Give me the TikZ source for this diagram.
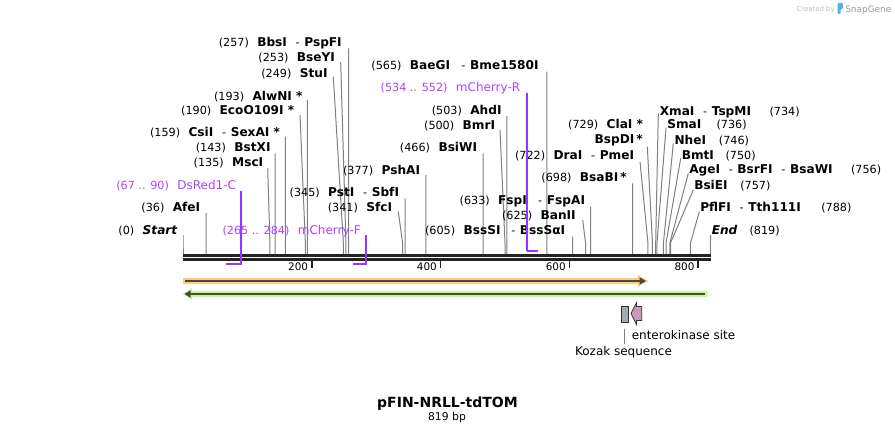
\documentclass[tikz,border=0pt]{standalone}
\usepackage{fontspec}
\setmainfont{DejaVu Sans}
\definecolor{cutgray}{RGB}{128,128,128}
\definecolor{bbcol}{RGB}{35,35,35}
\definecolor{purln}{RGB}{153,51,255}
\definecolor{purtxt}{RGB}{170,68,255}
\definecolor{orfcol}{RGB}{253,204,124}
\definecolor{grncol}{RGB}{196,245,150}
\definecolor{darkln}{RGB}{72,72,72}
\definecolor{kozcol}{RGB}{165,170,176}
\definecolor{entcol}{RGB}{204,153,187}
\definecolor{logoblue}{RGB}{80,180,235}
\definecolor{logogray}{RGB}{150,155,160}
\newcommand{\myenz}[1]{{\fontsize{9.1}{11}\selectfont\bfseries #1}}
\newcommand{\myhy}{\hspace{6.5pt}-\hspace{3.5pt}}
\newcommand{\mygap}{\hspace{6.3pt}}
\newcommand{\mypname}[1]{{\fontsize{9}{11}\selectfont #1}}
\begin{document}
\begin{tikzpicture}[x=0.75pt,y=-0.75pt,
  num/.style={inner sep=0pt,font=\fontsize{8.4}{10}\selectfont,text=black},
  lftlab/.style={num,anchor=base east},
  rgtlab/.style={num,anchor=base west},
  rgtnum/.style={num,anchor=base east},
  prim/.style={num,anchor=base east,text=purtxt},
  ticklab/.style={inner sep=0pt,font=\fontsize{7.8}{9}\selectfont,anchor=base east},
  featlab/.style={inner sep=0pt,font=\fontsize{9}{11}\selectfont},
  cutline/.style={draw=cutgray,line width=0.75pt},
  primln/.style={draw=purln,line width=1pt},
  primbar/.style={draw=purln,line width=1.4pt},
  backbone/.style={draw=bbcol,line width=2pt},
  tickmark/.style={draw=bbcol,line width=1.3pt},
  featline/.style={draw=darkln,line width=1.3pt}
]
\useasboundingbox (0,0) rectangle (895,433);
\fill[white] (0,0) rectangle (895,433);

% backbone
\coordinate (bbA1) at (183,255.4); \coordinate (bbB1) at (711,255.4);
\coordinate (bbA2) at (183,259.5); \coordinate (bbB2) at (711,259.5);
\draw[backbone] (bbA1) -- (bbB1);
\draw[backbone] (bbA2) -- (bbB2);

% ticks
\foreach \t in {200,400,600,800}{
  \coordinate (tk\t a) at ({183+0.644*\t},258.5);
  \coordinate (tk\t b) at ({183+0.644*\t},268.3);
  \draw[tickmark] (tk\t a) -- (tk\t b);
  \node[ticklab] (tl\t) at ({183+0.644*\t-3.5},270) {\t};
}

% cut-site lines
\foreach \n/\tx/\ty/\p in {
  start/183/235/0, afe/206.2/213/36, msc/267.7/168.3/135, bstx/275.1/153.3/143,
  csi/285.4/136.7/159, eco/300/115/190, alw/307.3/100/193, stu/333.3/76.7/249,
  bse/340.7/62.3/253, bbs/348.5/48.3/257, sfc/398.3/211.7/341, pst/405.2/198.3/345,
  psh/425.8/175/377, bsiw/483.1/153.3/466, bmr/500/130/500, ahd/506.9/116/503,
  bae/546.9/71.7/565, bsss/572.6/236.7/605, ban/582.7/220/625, fsp/590.7/206.7/633,
  bsab/632.5/183.3/698, dra/640/161.7/722, bspd/647.3/146.7/729, xma/658.3/113.3/734,
  sma/666/127.7/736, nhe/673.3/143.3/746, bmt/680.7/158.3/750, age/688.3/173.3/756,
  bsie/693.3/190/757, pfl/699.3/211.7/788, end/710.6/235/819}{
  \coordinate (\n-t) at (\tx,\ty);
  \coordinate (\n-b) at ({183+0.644*\p},243);
  \coordinate (\n-s) at ({183+0.644*\p},254);
  \draw[cutline] (\n-t) -- (\n-b) -- (\n-s);
}

% left labels
\node[lftlab] (Lstart) at (177.5,234.4) {(0)\mygap\myenz{\itshape Start}};
\node[lftlab] (Lafe) at (200.5,211.7) {(36)\mygap\myenz{AfeI}};
\node[lftlab] (Lmsc) at (263.5,166.7) {(135)\mygap\myenz{MscI}};
\node[lftlab] (Lbstx) at (270.8,151.1) {(143)\mygap\myenz{BstXI}};
\node[lftlab] (Lcsi) at (280.3,136.1) {(159)\mygap\myenz{CsiI}\myhy\myenz{SexAI *}};
\node[lftlab] (Leco) at (294.5,114.4) {(190)\mygap\myenz{EcoO109I *}};
\node[lftlab] (Lalw) at (302.8,100.4) {(193)\mygap\myenz{AlwNI *}};
\node[lftlab] (Lstu) at (327.8,77.1) {(249)\mygap\myenz{StuI}};
\node[lftlab] (Lbse) at (335.2,61.7) {(253)\mygap\myenz{BseYI}};
\node[lftlab] (Lbbs) at (342,46.1) {(257)\mygap\myenz{BbsI}\myhy\myenz{PspFI}};
\node[lftlab] (Lpst) at (399.3,196.7) {(345)\mygap\myenz{PstI}\myhy\myenz{SbfI}};
\node[lftlab] (Lsfc) at (392.3,211.1) {(341)\mygap\myenz{SfcI}};
\node[lftlab] (Lpsh) at (420.3,174.4) {(377)\mygap\myenz{PshAI}};
\node[lftlab] (Lbsiw) at (477.3,151.7) {(466)\mygap\myenz{BsiWI}};
\node[lftlab] (Lbmr) at (495.3,129.4) {(500)\mygap\myenz{BmrI}};
\node[lftlab] (Lahd) at (501.8,114.4) {(503)\mygap\myenz{AhdI}};
\node[lftlab] (Lbae) at (538.8,69.4) {(565)\mygap\myenz{BaeGI}\hspace{2pt}\myhy\myenz{Bme1580I}};
\node[lftlab] (Lbsss) at (565.5,234.4) {(605)\mygap\myenz{BssSI}\hspace{1.5pt}\myhy\myenz{BssSαI}};
\node[lftlab] (Lban) at (576,219.4) {(625)\mygap\myenz{BanII}};
\node[lftlab] (Lfsp) at (585.3,204.4) {(633)\mygap\myenz{FspI}\hspace{2pt}\myhy\myenz{FspAI}};
\node[lftlab] (Lbsab) at (627,181.7) {(698)\mygap\myenz{BsaBI\,*}};
\node[lftlab] (Ldra) at (634.3,159.4) {(722)\mygap\myenz{DraI}\myhy\myenz{PmeI}};
\node[lftlab] (Lcla) at (643.3,128.7) {(729)\mygap\myenz{ClaI *}};
\node[lftlab] (Lbspd) at (643,143.7) {\myenz{BspDI\,*}};

% right labels
\node[rgtlab] (Rxma) at (659.5,115.1) {\myenz{XmaI}\myhy\myenz{TspMI}};
\node[rgtnum] (Nxma) at (800,115.1) {(734)};
\node[rgtlab] (Rsma) at (667,128.7) {\myenz{SmaI}};
\node[rgtnum] (Nsma) at (747,128.7) {(736)};
\node[rgtlab] (Rnhe) at (674.3,144.4) {\myenz{NheI}};
\node[rgtnum] (Nnhe) at (749.3,144.4) {(746)};
\node[rgtlab] (Rbmt) at (681.5,159.4) {\myenz{BmtI}};
\node[rgtnum] (Nbmt) at (756,159.4) {(750)};
\node[rgtlab] (Rage) at (689,173.7) {\myenz{AgeI}\myhy\myenz{BsrFI}\myhy\myenz{BsaWI}};
\node[rgtnum] (Nage) at (881.5,173.7) {(756)};
\node[rgtlab] (Rbsie) at (694,189.4) {\myenz{BsiEI}};
\node[rgtnum] (Nbsie) at (770.7,189.4) {(757)};
\node[rgtlab] (Rpfl) at (700,211.1) {\myenz{PflFI}\myhy\myenz{Tth111I}};
\node[rgtnum] (Npfl) at (851.7,211.1) {(788)};
\node[rgtlab] (Rend) at (711.5,234.4) {\myenz{\itshape End}};
\node[rgtnum] (Nend) at (780,234.4) {(819)};

% primers
\node[prim] (Pds) at (236.3,189.4) {(67 .. 90)\mygap\mypname{DsRed1-C}};
\coordinate (pds-t) at (241,190.7); \coordinate (pds-b) at (241,264.5);
\coordinate (pds-l) at (226,263.8); \coordinate (pds-r) at (241.5,263.8);
\draw[primln] (pds-t) -- (pds-b);
\draw[primbar] (pds-l) -- (pds-r);

\node[prim] (Pmf) at (361,234.4) {(265 .. 284)\mygap\mypname{mCherry-F}};
\coordinate (pmf-t) at (366,235); \coordinate (pmf-b) at (366,264.5);
\coordinate (pmf-l) at (353,263.8); \coordinate (pmf-r) at (366.5,263.8);
\draw[primln] (pmf-t) -- (pmf-b);
\draw[primbar] (pmf-l) -- (pmf-r);

\node[prim] (Pmr) at (520.5,91.1) {(534 .. 552)\mygap\mypname{mCherry-R}};
\coordinate (pmr-t) at (527,92.7); \coordinate (pmr-b) at (527,251.2);
\coordinate (pmr-l) at (526.5,250.7); \coordinate (pmr-r) at (537.5,250.7);
\draw[primln] (pmr-t) -- (pmr-b);
\draw[primbar] (pmr-l) -- (pmr-r);

% orange feature (forward)
\fill[orfcol] (183,278) -- (637.5,278) -- (637.5,275) -- (648.5,281) -- (637.5,287) -- (637.5,284) -- (183,284) -- cycle;
\coordinate (of-a) at (185,281); \coordinate (of-b) at (641,281);
\draw[featline] (of-a) -- (of-b);
\fill[darkln] (639.5,277.2) -- (646,281) -- (639.5,284.8) -- cycle;

% green feature (reverse)
\fill[grncol] (707.3,291) -- (192,291) -- (192,288.3) -- (182.5,294) -- (192,299.7) -- (192,297) -- (707.3,297) -- cycle;
\coordinate (gf-a) at (705,294); \coordinate (gf-b) at (189,294);
\draw[featline] (gf-a) -- (gf-b);
\fill[darkln] (190.5,290.3) -- (184.5,294) -- (190.5,297.7) -- cycle;

% Kozak and enterokinase
\draw[draw=black!80,line width=0.6pt,fill=kozcol] (621.7,306.7) rectangle (628.3,322.3);
\draw[draw=black!80,line width=0.6pt,fill=entcol] (631,313.5) -- (636.5,302.7) -- (636.5,306.5) -- (641.7,306.5) -- (641.7,320.5) -- (636.5,320.5) -- (636.5,324.5) -- cycle;
\node[featlab,anchor=base west] (Lent) at (631.5,339.3) {enterokinase site};
\coordinate (kz-t) at (624.5,329.3); \coordinate (kz-b) at (624.5,344);
\draw[cutline] (kz-t) -- (kz-b);
\node[featlab,anchor=base] (Lkoz) at (623.5,355.7) {Kozak sequence};

% title
\node[inner sep=0pt,anchor=base,font=\fontsize{10.5}{12}\selectfont\bfseries] (title) at (447.5,407.7) {pFIN-NRLL-tdTOM};
\node[inner sep=0pt,anchor=base,font=\fontsize{8.1}{10}\selectfont] (bp) at (447,420) {819 bp};

% watermark
\node[inner sep=0pt,anchor=base east,font=\fontsize{5.2}{6}\selectfont,text=black!25] (cby) at (835,11) {Created by};
\fill[logoblue,rounded corners=0.8pt] (837.5,3) -- (843,3) -- (843,9) -- (840.5,9) -- (840.5,14) -- (837.5,14) -- cycle;
\node[inner sep=0pt,anchor=base west,font=\fontsize{6.7}{8}\selectfont,text=logogray] (sg) at (845,12) {SnapGene};
\end{tikzpicture}
\end{document}
